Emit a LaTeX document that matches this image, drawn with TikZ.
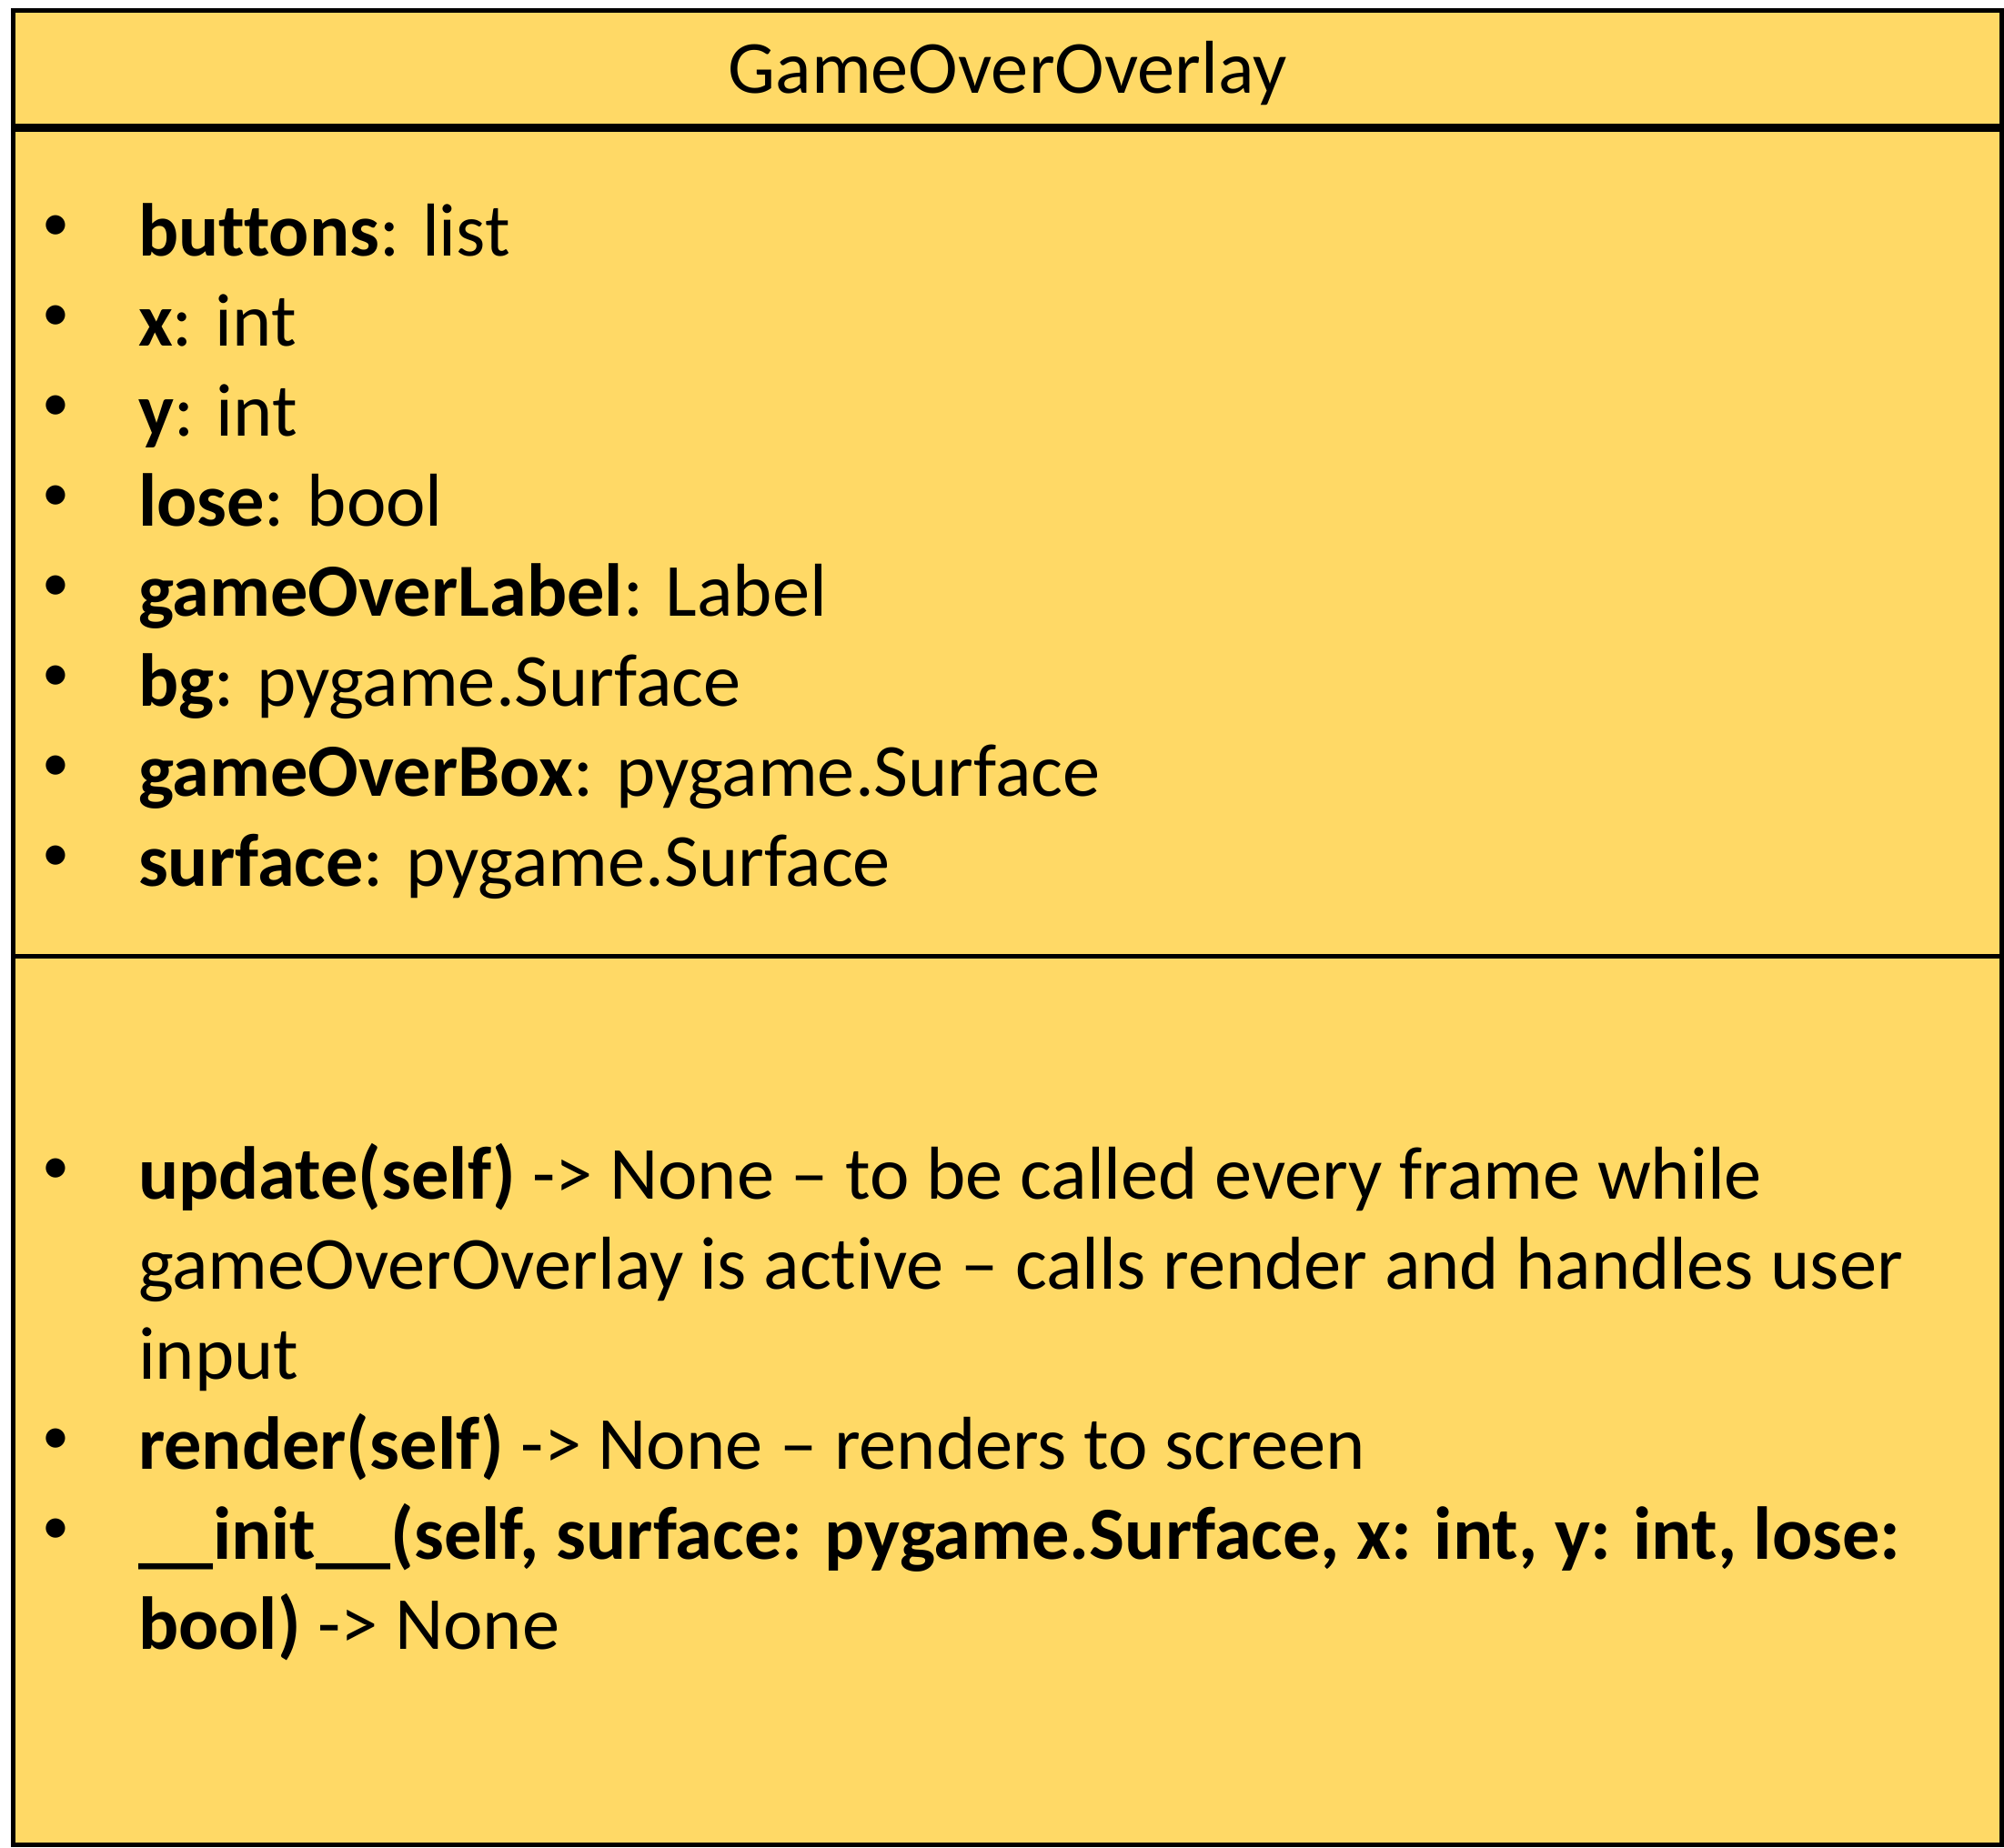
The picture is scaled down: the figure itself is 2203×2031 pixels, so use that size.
\documentclass[tikz,border=0pt]{standalone}
\usepackage{fontspec}
\setmainfont[RawFeature={-liga}]{Carlito}
\definecolor{boxfill}{HTML}{FFD966}
\begin{document}
\begin{tikzpicture}[x=0.5pt,y=-0.5pt,
  txt/.style={inner sep=0pt,outer sep=0pt,anchor=base west,font=\fontsize{41.2}{50}\selectfont},
  bul/.style={inner sep=0pt,outer sep=0pt,anchor=center,font=\fontsize{30}{36}\selectfont},
  ttl/.style={inner sep=0pt,outer sep=0pt,anchor=base,font=\fontsize{41.2}{50}\selectfont}]
\useasboundingbox (0,0) rectangle (2203,2031);
\fill[boxfill] (14.5,11.5) rectangle (2200.5,2028.5);
\draw[line width=4.5pt] (14.5,140.5) -- (2200.5,140.5);
\draw[line width=2.5pt] (14.5,1051.5) -- (2200.5,1051.5);
\draw[line width=2.5pt] (14.5,11.5) rectangle (2200.5,2028.5);
% title
\node[ttl] (title) at (1107.5,102) {GameOverOverlay};
% attributes
\node[bul] (b1) at (61,251) {\textbullet};
\node[txt] (a1) at (152,281) {\textbf{buttons}: list};
\node[bul] (b2) at (61,350) {\textbullet};
\node[txt] (a2) at (152,380) {\textbf{x}: int};
\node[bul] (b3) at (61,449) {\textbullet};
\node[txt] (a3) at (152,479) {\textbf{y}: int};
\node[bul] (b4) at (61,548) {\textbullet};
\node[txt] (a4) at (152,578) {\textbf{lose}: bool};
\node[bul] (b5) at (61,647) {\textbullet};
\node[txt] (a5) at (152,677) {\textbf{gameOverLabel}: Label};
\node[bul] (b6) at (61,746) {\textbullet};
\node[txt] (a6) at (152,776) {\textbf{bg}: pygame.Surface};
\node[bul] (b7) at (61,845) {\textbullet};
\node[txt] (a7) at (152,875) {\textbf{gameOverBox}: pygame.Surface};
\node[bul] (b8) at (61,944) {\textbullet};
\node[txt] (a8) at (152,974) {\textbf{surface}: pygame.Surface};
% methods
\node[bul] (m1b) at (61,1288) {\textbullet};
\node[txt] (m1a) at (152,1318) {\textbf{update(self)} -\textgreater{} None \textendash{} to be called every frame while};
\node[txt] (m1c) at (152,1417) {gameOverOverlay is active \textendash{} calls render and handles user};
\node[txt] (m1d) at (152,1516) {input};
\node[bul] (m2b) at (61,1585) {\textbullet};
\node[txt] (m2a) at (152,1615) {\textbf{render(self)} -\textgreater{} None \textendash{} renders to screen};
\node[bul] (m3b) at (61,1684) {\textbullet};
\node[txt] (m3a) at (152,1714) {\textbf{\_\_init\_\_(self, surface: pygame.Surface, x: int, y: int, lose:}};
\node[txt] (m3c) at (152,1813) {\textbf{bool)} -\textgreater{} None};
\end{tikzpicture}
\end{document}
